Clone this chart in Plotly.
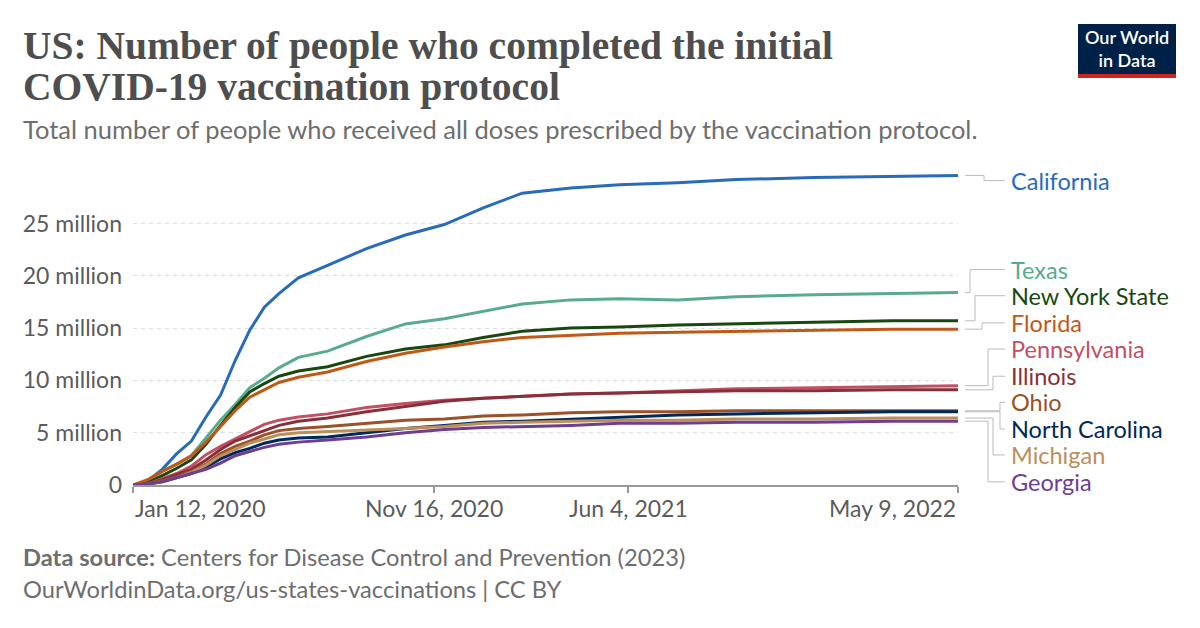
import plotly.graph_objects as go

# ---- data (millions of people) ----
dates = ["2020-01-12", "2020-01-27", "2020-02-11", "2020-02-26", "2020-03-12", "2020-03-27",
         "2020-04-11", "2020-04-26", "2020-05-11", "2020-05-26", "2020-06-10", "2020-06-30",
         "2020-07-30", "2020-09-08", "2020-10-18", "2020-11-27", "2021-01-06", "2021-02-15",
         "2021-04-06", "2021-05-26", "2021-07-25", "2021-09-23", "2021-12-12", "2022-03-02",
         "2022-05-09"]

california = [0, 0.4, 1.5, 3.0, 4.2, 6.5, 8.6, 11.9, 14.8, 17.0, 18.3, 19.8, 21.0, 22.6, 23.9,
              24.9, 26.5, 27.9, 28.4, 28.7, 28.9, 29.2, 29.4, 29.5, 29.6]
texas = [0, 0.3, 1.3, 2.0, 2.8, 4.5, 6.2, 7.7, 9.3, 10.2, 11.2, 12.2, 12.8, 14.2, 15.4, 15.9,
         16.6, 17.3, 17.7, 17.8, 17.7, 18.0, 18.2, 18.3, 18.4]
new_york = [0, 0.2, 0.9, 1.6, 2.4, 3.9, 5.7, 7.4, 8.9, 9.7, 10.4, 10.9, 11.3, 12.3, 13.0, 13.4,
            14.1, 14.7, 15.0, 15.1, 15.3, 15.4, 15.6, 15.7, 15.7]
florida = [0, 0.5, 1.3, 2.0, 2.8, 4.1, 5.6, 7.1, 8.4, 9.1, 9.8, 10.3, 10.8, 11.8, 12.6, 13.2,
           13.7, 14.1, 14.3, 14.5, 14.6, 14.7, 14.8, 14.9, 14.9]
pennsylvania = [0, 0.1, 0.6, 1.1, 1.8, 2.9, 3.7, 4.4, 5.1, 5.8, 6.2, 6.5, 6.8, 7.4, 7.8, 8.1,
                8.3, 8.5, 8.7, 8.8, 9.0, 9.2, 9.3, 9.4, 9.5]
illinois = [0, 0.1, 0.5, 1.0, 1.5, 2.4, 3.4, 4.2, 4.7, 5.2, 5.7, 6.1, 6.4, 7.0, 7.5, 8.0,
            8.3, 8.5, 8.7, 8.8, 8.9, 9.0, 9.0, 9.1, 9.1]
ohio = [0, 0.1, 0.4, 0.8, 1.3, 2.0, 3.0, 3.7, 4.2, 4.8, 5.2, 5.4, 5.6, 5.9, 6.2, 6.3,
        6.6, 6.7, 6.9, 7.0, 7.0, 7.1, 7.1, 7.1, 7.1]
north_carolina = [0, 0.1, 0.3, 0.7, 1.1, 1.7, 2.5, 3.1, 3.5, 4.0, 4.3, 4.5, 4.6, 5.0, 5.4, 5.7,
                  6.0, 6.1, 6.3, 6.5, 6.7, 6.8, 6.9, 7.0, 7.0]
michigan = [0, 0.1, 0.3, 0.7, 1.2, 1.9, 2.8, 3.4, 4.0, 4.4, 4.8, 5.0, 5.1, 5.3, 5.4, 5.6,
            5.9, 6.0, 6.1, 6.2, 6.2, 6.3, 6.3, 6.4, 6.4]
georgia = [0, 0.1, 0.3, 0.7, 1.1, 1.5, 2.1, 2.8, 3.2, 3.6, 3.9, 4.1, 4.3, 4.6, 5.0, 5.3,
           5.5, 5.6, 5.7, 5.9, 5.9, 6.0, 6.0, 6.1, 6.1]

series_names = ["California", "Texas", "New York State", "Florida", "Pennsylvania", "Illinois",
                "Ohio", "North Carolina", "Michigan", "Georgia"]
series_values = [california, texas, new_york, florida, pennsylvania, illinois,
                 ohio, north_carolina, michigan, georgia]
colors = ["#286bbb", "#58ac8c", "#18470f", "#c05917", "#c15065", "#883039",
          "#9a5129", "#00295b", "#bc8e5a", "#6d3e91"]

y_tickvals = [0, 5, 10, 15, 20, 25]
y_ticktext = ["0", "5 million", "10 million", "15 million", "20 million", "25 million"]
x_tickvals = ["2020-01-12", "2020-11-16", "2021-06-04", "2022-05-09"]
x_ticktext = ["Jan 12, 2020", "Nov 16, 2020", "Jun 4, 2021", "May 9, 2022"]
x_tick_anchor = ["left", "center", "center", "right"]

# label placement (value-units positions of the spread-out end labels) and elbow offsets
label_y = [29.1, 20.6, 18.1, 15.5, 13.0, 10.4, 7.9, 5.35, 2.87, 0.3]
elbow_px = [984, 970, 975, 982, 988, 993, 1000, 1000, 993, 988]

# ---- layout geometry ----
W, H = 1200, 628
L, R, T, B = 133, 242, 166, 143
PW, PH = W - L - R, H - T - B


def px_x(px):
    return (px - L) / PW


def px_y(py):
    return (H - B - py) / PH


FONT = "Lato, 'Open Sans', sans-serif"
GREY = "#5b5b5b"
FOOT = "#6e6e6e"

fig = go.Figure()
for name, vals, col in zip(series_names, series_values, colors):
    fig.add_trace(go.Scatter(x=dates, y=vals, mode="lines", name=name,
                             line=dict(color=col, width=3), showlegend=False))

shapes = []
annotations = []
for name, vals, col, ly, ex in zip(series_names, series_values, colors, label_y, elbow_px):
    yv = vals[-1]
    line_style = dict(color="#bbbbbb", width=1)
    shapes.append(dict(type="line", xref="paper", yref="y", x0=px_x(965), x1=px_x(ex),
                       y0=yv, y1=yv, line=line_style))
    shapes.append(dict(type="line", xref="paper", yref="y", x0=px_x(ex), x1=px_x(ex),
                       y0=yv, y1=ly, line=line_style))
    shapes.append(dict(type="line", xref="paper", yref="y", x0=px_x(ex), x1=px_x(1005),
                       y0=ly, y1=ly, line=line_style))
    annotations.append(dict(text=name, xref="paper", yref="y", x=px_x(1009), y=ly,
                            xanchor="left", yanchor="middle", showarrow=False,
                            font=dict(family=FONT, size=23.5, color=col)))

# x tick labels (first left-aligned, last right-aligned, as in the original)
for tv, tt, anc in zip(x_tickvals, x_ticktext, x_tick_anchor):
    annotations.append(dict(text=tt, xref="x", yref="paper", x=tv, y=px_y(508),
                            xanchor=anc, yanchor="middle", showarrow=False,
                            font=dict(family=FONT, size=23, color=GREY)))

# title, subtitle, footer
TITLE_FONT = dict(family="'Liberation Serif', 'DejaVu Serif', serif", size=39.5, color="#4e4e4e")
annotations.append(dict(text="<b>US: Number of people who completed the initial</b>",
                        xref="paper", yref="paper", x=px_x(21), y=px_y(46), xanchor="left",
                        yanchor="middle", showarrow=False, font=TITLE_FONT))
annotations.append(dict(text="<b>COVID-19 vaccination protocol</b>",
                        xref="paper", yref="paper", x=px_x(21), y=px_y(87), xanchor="left",
                        yanchor="middle", showarrow=False, font=TITLE_FONT))
annotations.append(dict(text="Total number of people who received all doses prescribed by the vaccination protocol.",
                        xref="paper", yref="paper", x=px_x(21), y=px_y(129), xanchor="left",
                        yanchor="middle", showarrow=False,
                        font=dict(family=FONT, size=25.5, color="#6e6e6e")))
annotations.append(dict(text="<b>Data source:</b> Centers for Disease Control and Prevention (2023)",
                        xref="paper", yref="paper", x=px_x(21), y=px_y(557), xanchor="left",
                        yanchor="middle", showarrow=False,
                        font=dict(family=FONT, size=23.7, color=FOOT)))
annotations.append(dict(text="OurWorldinData.org/us-states-vaccinations | CC BY",
                        xref="paper", yref="paper", x=px_x(21), y=px_y(589), xanchor="left",
                        yanchor="middle", showarrow=False,
                        font=dict(family=FONT, size=23.7, color=FOOT)))

# logo
shapes.append(dict(type="rect", xref="paper", yref="paper", x0=px_x(1078), x1=px_x(1176),
                   y0=px_y(78), y1=px_y(24), fillcolor="#002147", line=dict(width=0), layer="above"))
shapes.append(dict(type="rect", xref="paper", yref="paper", x0=px_x(1078), x1=px_x(1176),
                   y0=px_y(78), y1=px_y(74), fillcolor="#ce261e", line=dict(width=0), layer="above"))
annotations.append(dict(text="Our World<br>in Data", xref="paper", yref="paper",
                        x=px_x(1127), y=px_y(49), xanchor="center", yanchor="middle",
                        showarrow=False, align="center",
                        font=dict(family=FONT, size=18, color="white", weight=600)))

fig.update_layout(
    width=W, height=H,
    margin=dict(l=L, r=R, t=T, b=B, pad=0),
    paper_bgcolor="white", plot_bgcolor="white",
    font=dict(family=FONT, color=GREY),
    shapes=shapes, annotations=annotations,
    xaxis=dict(type="date", range=["2020-01-12", "2022-05-09"], tickvals=x_tickvals,
               showticklabels=False, showgrid=False, showline=True, linecolor="#999999",
               linewidth=1.5, ticks="outside", ticklen=6, tickcolor="#999999", tickwidth=1.5,
               zeroline=False),
    yaxis=dict(range=[0, 30.5], tickvals=y_tickvals, ticktext=y_ticktext, showgrid=True,
               gridcolor="#dddddd", griddash="4px,4px", gridwidth=1, zeroline=False,
               showline=False, ticks="", ticklabelstandoff=10,
               tickfont=dict(family=FONT, size=23, color=GREY)),
)

fig.write_html("out.html")
